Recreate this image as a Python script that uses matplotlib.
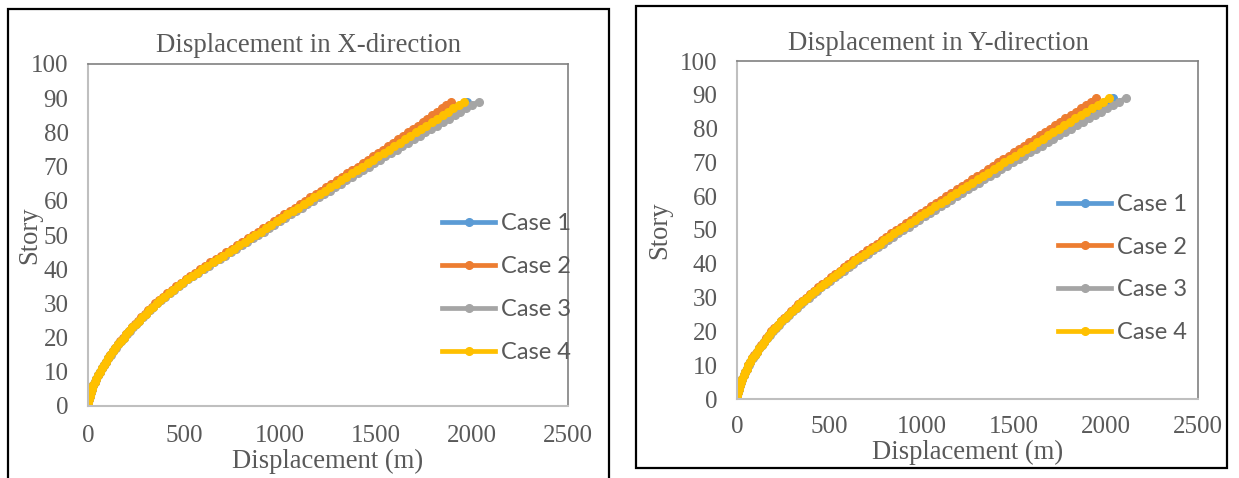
import matplotlib
matplotlib.use("Agg")
import matplotlib.pyplot as plt
from matplotlib.patches import Rectangle

# Story numbers (same for every case)
stories = list(range(1, 90))

# Displacement in X-direction (m)
x_case1 = [1, 4, 9, 15, 21, 28, 36, 44, 53, 62,
           72, 83, 94, 105, 117, 130, 143, 156, 170, 185,
           200, 215, 231, 248, 265, 282, 300, 319, 338, 357,
           377, 398, 420, 443, 467, 491, 516, 542, 568, 594,
           621, 649, 677, 705, 734, 761, 789, 817, 846, 874,
           902, 930, 957, 985, 1014, 1042, 1070, 1098, 1126, 1154,
           1182, 1210, 1239, 1267, 1295, 1323, 1351, 1379, 1408, 1436,
           1464, 1492, 1520, 1549, 1577, 1605, 1633, 1661, 1689, 1717,
           1746, 1774, 1802, 1831, 1859, 1887, 1915, 1944, 1973]
x_case2 = [1, 4, 9, 15, 21, 28, 36, 44, 53, 62,
           72, 83, 93, 104, 116, 129, 141, 154, 168, 182,
           197, 212, 228, 244, 261, 278, 296, 314, 333, 351,
           371, 392, 414, 436, 460, 484, 508, 533, 559, 584,
           611, 638, 666, 694, 721, 748, 775, 803, 831, 858,
           886, 913, 941, 968, 996, 1023, 1051, 1078, 1105, 1131,
           1158, 1186, 1213, 1241, 1268, 1295, 1322, 1349, 1377, 1404,
           1431, 1457, 1484, 1511, 1538, 1564, 1590, 1616, 1641, 1667,
           1693, 1718, 1743, 1768, 1794, 1818, 1842, 1866, 1890]
x_case3 = [1, 4, 9, 15, 21, 28, 36, 44, 54, 63,
           73, 84, 95, 106, 118, 131, 144, 158, 172, 187,
           202, 217, 233, 250, 267, 285, 303, 322, 341, 361,
           381, 402, 425, 448, 472, 497, 522, 549, 575, 602,
           630, 658, 687, 715, 744, 772, 801, 829, 858, 886,
           915, 943, 971, 1000, 1028, 1057, 1085, 1114, 1143, 1172,
           1201, 1230, 1259, 1288, 1317, 1345, 1374, 1404, 1433, 1462,
           1491, 1520, 1549, 1579, 1608, 1638, 1668, 1698, 1727, 1757,
           1787, 1818, 1848, 1878, 1909, 1939, 1970, 2001, 2034]
x_case4 = [1, 4, 9, 15, 21, 28, 36, 44, 53, 62,
           72, 83, 94, 105, 117, 130, 143, 156, 170, 185,
           200, 215, 231, 248, 265, 282, 300, 319, 338, 357,
           377, 398, 420, 443, 467, 491, 516, 542, 568, 594,
           621, 649, 677, 705, 733, 760, 788, 816, 844, 872,
           900, 928, 955, 983, 1011, 1039, 1067, 1095, 1123, 1150,
           1178, 1206, 1234, 1262, 1290, 1317, 1345, 1373, 1401, 1429,
           1457, 1484, 1512, 1540, 1568, 1596, 1624, 1652, 1679, 1707,
           1735, 1763, 1791, 1819, 1847, 1874, 1902, 1930, 1958]

# Displacement in Y-direction (m)
y_case1 = [1, 4, 9, 15, 21, 28, 36, 44, 53, 62,
           72, 84, 95, 107, 120, 133, 146, 160, 175, 190,
           206, 223, 241, 259, 278, 298, 318, 338, 359, 381,
           403, 425, 448, 471, 496, 519, 543, 567, 593, 618,
           643, 669, 695, 722, 749, 776, 802, 829, 857, 884,
           912, 940, 969, 997, 1025, 1054, 1082, 1111, 1139, 1168,
           1197, 1226, 1256, 1285, 1315, 1344, 1374, 1403, 1433, 1462,
           1493, 1522, 1553, 1583, 1613, 1643, 1673, 1703, 1733, 1763,
           1793, 1824, 1854, 1885, 1916, 1946, 1977, 2008, 2039]
y_case2 = [1, 4, 9, 15, 21, 28, 36, 44, 53, 62,
           72, 84, 94, 106, 119, 131, 144, 158, 173, 187,
           203, 220, 237, 255, 274, 294, 313, 333, 353, 374,
           396, 417, 440, 463, 486, 509, 532, 556, 580, 604,
           629, 654, 680, 706, 732, 758, 784, 810, 836, 862,
           889, 917, 944, 972, 999, 1026, 1053, 1080, 1108, 1135,
           1163, 1191, 1219, 1247, 1275, 1303, 1332, 1360, 1388, 1416,
           1445, 1473, 1501, 1529, 1558, 1586, 1614, 1641, 1669, 1697,
           1725, 1753, 1781, 1809, 1838, 1866, 1893, 1921, 1949]
y_case3 = [1, 4, 9, 15, 21, 28, 36, 45, 54, 63,
           73, 85, 96, 109, 122, 135, 148, 163, 178, 193,
           209, 227, 245, 264, 283, 303, 324, 345, 366, 389,
           411, 434, 458, 481, 506, 530, 555, 580, 606, 630,
           656, 682, 710, 737, 764, 792, 819, 847, 874, 902,
           931, 960, 989, 1018, 1047, 1076, 1105, 1134, 1163, 1192,
           1222, 1252, 1282, 1312, 1342, 1372, 1403, 1433, 1464, 1495,
           1527, 1557, 1589, 1620, 1653, 1684, 1716, 1748, 1780, 1811,
           1844, 1876, 1909, 1941, 1974, 2006, 2039, 2073, 2108]
y_case4 = [1, 4, 9, 15, 21, 28, 36, 44, 53, 62,
           72, 84, 95, 107, 120, 133, 146, 160, 175, 190,
           206, 223, 241, 259, 278, 298, 318, 338, 359, 381,
           403, 425, 448, 471, 495, 518, 542, 566, 591, 616,
           641, 667, 693, 720, 746, 773, 799, 826, 853, 880,
           908, 936, 964, 992, 1020, 1048, 1076, 1104, 1132, 1160,
           1189, 1218, 1247, 1276, 1305, 1334, 1363, 1392, 1421, 1450,
           1480, 1509, 1539, 1568, 1598, 1627, 1657, 1686, 1716, 1745,
           1775, 1805, 1835, 1865, 1895, 1925, 1955, 1985, 2015]

case_names = ["Case 1", "Case 2", "Case 3", "Case 4"]
case_colors = ["#5B9BD5", "#ED7D31", "#A5A5A5", "#FFC000"]

W, H = 1239, 478
TXT = "#595959"
SERIF = "Liberation Serif"
SANS = ["Lato", "DejaVu Sans"]

fig = plt.figure(figsize=(W / 100, H / 100), dpi=100)


def fx(px):
    return px / W


def fy(py):
    return 1 - py / H


def panel(box, plot, data, title, title_xy, xlab_y, ylab_x, leg_xy, leg_space, xpad):
    # outer chart border
    bx0, by0, bx1, by1 = box
    fig.add_artist(Rectangle((fx(bx0), fy(by1)), fx(bx1) - fx(bx0), fy(by0) - fy(by1),
                             transform=fig.transFigure, fill=False, ec="black", lw=1.6))
    px0, py0, px1, py1 = plot
    ax = fig.add_axes([fx(px0), fy(py1), fx(px1) - fx(px0), fy(py0) - fy(py1)])
    for vals, name, col in zip(data, case_names, case_colors):
        ax.plot(vals, stories, color=col, lw=3.4, marker="o", ms=5.5, label=name)
    ax.set_xlim(0, 2500)
    ax.set_ylim(0, 100)
    ax.set_xticks(range(0, 2501, 500))
    ax.set_yticks(range(0, 101, 10))
    ax.tick_params(length=0, pad=14, labelsize=18, colors=TXT)
    ax.tick_params(axis="x", pad=xpad)
    for lab in ax.get_xticklabels() + ax.get_yticklabels():
        lab.set_family(SERIF)
    for s in ["left", "bottom"]:
        ax.spines[s].set_color("#BFBFBF")
        ax.spines[s].set_linewidth(1.5)
    for s in ["top", "right"]:
        ax.spines[s].set_color("#808080")
        ax.spines[s].set_linewidth(1.2)
    fig.text(fx(title_xy[0]), fy(title_xy[1]), title, ha="center", va="center",
             family=SERIF, fontsize=19.3, color=TXT)
    fig.text(fx((px0 + px1) / 2), fy(xlab_y), "Displacement (m)", ha="center", va="center",
             family=SERIF, fontsize=19.2, color=TXT)
    fig.text(fx(ylab_x), fy((py0 + py1) / 2), "Story", ha="center", va="center",
             rotation=90, family=SERIF, fontsize=19.2, color=TXT)
    leg = ax.legend(loc="upper left", bbox_to_anchor=(fx(leg_xy[0]), fy(leg_xy[1])),
                    bbox_transform=fig.transFigure, frameon=False, borderpad=0,
                    borderaxespad=0, handlelength=2.25, handletextpad=0.25,
                    labelspacing=leg_space, prop={"family": SANS, "size": 17})
    for t in leg.get_texts():
        t.set_color(TXT)
    return ax


panel((8, 9, 609, 500), (88, 64, 568, 406), [x_case1, x_case2, x_case3, x_case4],
      "Displacement in X-direction", (308, 46), 461, 30, (442, 213), 0.93, 14)
panel((636, 6, 1227, 468), (737, 61, 1198, 399), [y_case1, y_case2, y_case3, y_case4],
      "Displacement in Y-direction", (938, 43), 452, 660, (1058, 194), 0.92, 12.5)

fig.savefig("out.png", dpi=100)
